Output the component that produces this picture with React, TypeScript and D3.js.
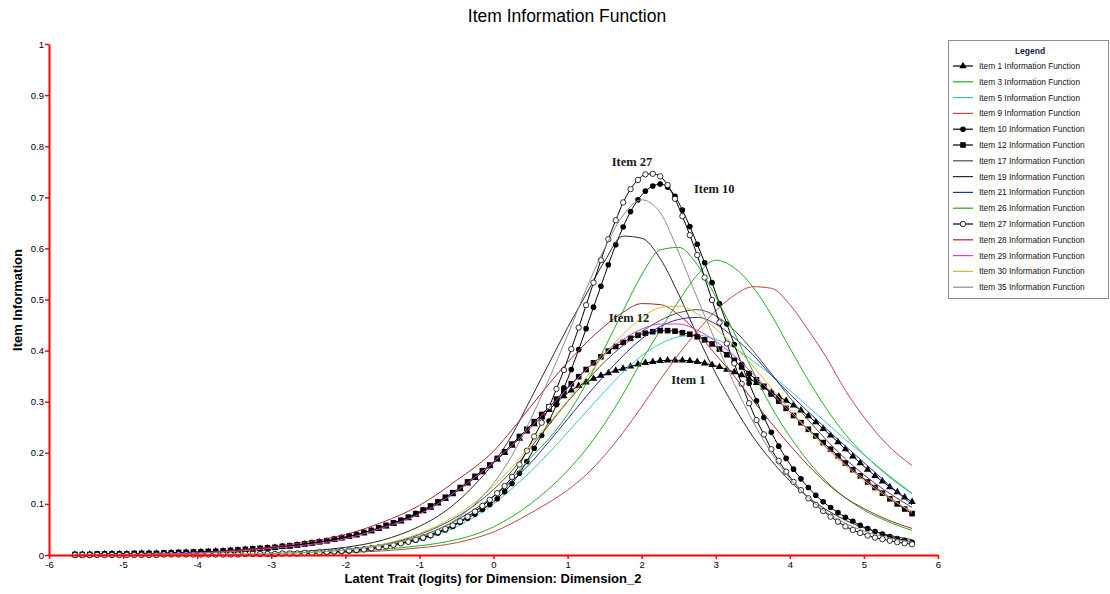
"use client";
import React, { useEffect, useRef } from "react";
import * as d3 from "d3";

// grid of the marked curves: one point every 0.1 logit, -5.65 .. 5.65
const THETA_FINE = d3.range(114).map((i) => +(-5.65 + i * 0.1).toFixed(2));
// grid of the plain curves
const THETA_COARSE = [
  -5.65, -5, -4.5, -4, -3.5, -3, -2.5, -2, -1.5, -1, -0.75, -0.5, -0.25, 0, 0.25, 0.5, 0.75, 1,
  1.25, 1.5, 1.75, 2, 2.25, 2.5, 2.75, 3, 3.25, 3.5, 3.75, 4, 4.25, 4.5, 4.75, 5, 5.3, 5.65,
];

const ITEM_1 = [
  0.001, 0.001, 0.001, 0.001, 0.002, 0.002, 0.002, 0.002, 0.002, 0.003,
  0.003, 0.003, 0.003, 0.004, 0.004, 0.005, 0.005, 0.006, 0.006, 0.007,
  0.007, 0.008, 0.009, 0.01, 0.011, 0.012, 0.013, 0.014, 0.016, 0.017,
  0.019, 0.021, 0.023, 0.025, 0.027, 0.03, 0.033, 0.036, 0.039, 0.043,
  0.047, 0.051, 0.056, 0.061, 0.066, 0.072, 0.079, 0.086, 0.093, 0.101,
  0.11, 0.119, 0.129, 0.14, 0.151, 0.162, 0.174, 0.187, 0.2, 0.214,
  0.228, 0.242, 0.256, 0.27, 0.284, 0.298, 0.311, 0.322, 0.331, 0.338,
  0.345, 0.351, 0.356, 0.361, 0.365, 0.369, 0.373, 0.376, 0.378, 0.38,
  0.381, 0.381, 0.381, 0.38, 0.378, 0.375, 0.372, 0.368, 0.363, 0.358,
  0.352, 0.345, 0.337, 0.328, 0.318, 0.31, 0.302, 0.293, 0.283, 0.272,
  0.26, 0.247, 0.234, 0.221, 0.207, 0.193, 0.18, 0.167, 0.155, 0.144,
  0.133, 0.123, 0.113, 0.104,
];
const ITEM_10 = [
  0, 0, 0, 0, 0, 0, 0, 0, 0, 0,
  0, 0, 0.001, 0.001, 0.001, 0.001, 0.001, 0.001, 0.001, 0.001,
  0.001, 0.001, 0.001, 0.002, 0.002, 0.002, 0.002, 0.002, 0.003, 0.003,
  0.003, 0.004, 0.004, 0.005, 0.005, 0.006, 0.007, 0.008, 0.009, 0.011,
  0.013, 0.015, 0.017, 0.02, 0.023, 0.026, 0.029, 0.033, 0.038, 0.043,
  0.049, 0.056, 0.064, 0.072, 0.08, 0.089, 0.099, 0.11, 0.124, 0.14,
  0.16, 0.183, 0.209, 0.234, 0.262, 0.294, 0.327, 0.363, 0.402, 0.443,
  0.485, 0.526, 0.568, 0.607, 0.642, 0.672, 0.695, 0.712, 0.722, 0.726,
  0.72, 0.702, 0.675, 0.643, 0.608, 0.572, 0.533, 0.492, 0.452, 0.412,
  0.373, 0.336, 0.302, 0.269, 0.24, 0.213, 0.189, 0.168, 0.149, 0.132,
  0.117, 0.104, 0.093, 0.083, 0.074, 0.066, 0.058, 0.052, 0.046, 0.041,
  0.036, 0.032, 0.029, 0.025,
];
const ITEM_12 = [
  0.001, 0.001, 0.001, 0.002, 0.002, 0.002, 0.002, 0.002, 0.003, 0.003,
  0.003, 0.003, 0.004, 0.004, 0.005, 0.005, 0.006, 0.006, 0.007, 0.007,
  0.008, 0.009, 0.01, 0.011, 0.012, 0.013, 0.014, 0.015, 0.017, 0.018,
  0.02, 0.022, 0.024, 0.026, 0.028, 0.031, 0.034, 0.037, 0.04, 0.044,
  0.048, 0.053, 0.058, 0.063, 0.068, 0.074, 0.081, 0.088, 0.096, 0.104,
  0.113, 0.122, 0.132, 0.143, 0.154, 0.165, 0.176, 0.189, 0.202, 0.217,
  0.232, 0.246, 0.261, 0.275, 0.29, 0.305, 0.32, 0.335, 0.349, 0.363,
  0.376, 0.388, 0.399, 0.408, 0.416, 0.424, 0.43, 0.434, 0.437, 0.439,
  0.439, 0.438, 0.435, 0.432, 0.427, 0.421, 0.413, 0.403, 0.392, 0.381,
  0.368, 0.355, 0.343, 0.33, 0.315, 0.301, 0.287, 0.273, 0.259, 0.246,
  0.233, 0.22, 0.207, 0.194, 0.18, 0.167, 0.155, 0.143, 0.132, 0.121,
  0.11, 0.1, 0.09, 0.081,
];
const ITEM_27 = [
  0, 0, 0, 0, 0, 0, 0, 0, 0, 0,
  0, 0, 0.001, 0.001, 0.001, 0.001, 0.001, 0.001, 0.001, 0.001,
  0.001, 0.001, 0.001, 0.002, 0.002, 0.002, 0.002, 0.002, 0.003, 0.003,
  0.003, 0.004, 0.004, 0.005, 0.006, 0.007, 0.008, 0.009, 0.01, 0.011,
  0.013, 0.015, 0.017, 0.02, 0.023, 0.026, 0.03, 0.034, 0.039, 0.045,
  0.051, 0.058, 0.066, 0.075, 0.085, 0.096, 0.108, 0.121, 0.135, 0.153,
  0.177, 0.204, 0.232, 0.259, 0.29, 0.325, 0.362, 0.403, 0.445, 0.489,
  0.533, 0.577, 0.618, 0.655, 0.69, 0.716, 0.734, 0.745, 0.746, 0.741,
  0.724, 0.697, 0.663, 0.626, 0.587, 0.543, 0.499, 0.455, 0.414, 0.375,
  0.335, 0.297, 0.264, 0.236, 0.207, 0.184, 0.163, 0.143, 0.127, 0.111,
  0.098, 0.086, 0.075, 0.065, 0.056, 0.049, 0.043, 0.038, 0.034, 0.031,
  0.028, 0.025, 0.023, 0.021,
];

const ITEM_3 = [
  0, 0, 0, 0.001, 0.001, 0.002, 0.004, 0.006, 0.011, 0.018, 0.023, 0.03, 0.04, 0.055, 0.075, 0.1,
  0.13, 0.165, 0.207, 0.257, 0.315, 0.38, 0.44, 0.497, 0.548, 0.577, 0.562, 0.525, 0.47, 0.405,
  0.342, 0.285, 0.236, 0.197, 0.158, 0.12,
];
const ITEM_5 = [
  0, 0, 0, 0.001, 0.001, 0.002, 0.004, 0.007, 0.015, 0.029, 0.04, 0.055, 0.075, 0.1, 0.13, 0.163,
  0.2, 0.24, 0.28, 0.32, 0.358, 0.39, 0.413, 0.427, 0.43, 0.422, 0.405, 0.38, 0.352, 0.322, 0.29,
  0.258, 0.226, 0.196, 0.16, 0.121,
];
const ITEM_9 = [
  0, 0, 0, 0, 0.001, 0.002, 0.003, 0.005, 0.008, 0.014, 0.018, 0.024, 0.033, 0.045, 0.062, 0.082,
  0.103, 0.127, 0.157, 0.195, 0.24, 0.29, 0.343, 0.393, 0.438, 0.478, 0.508, 0.525, 0.522, 0.49,
  0.44, 0.385, 0.322, 0.27, 0.218, 0.175,
];
const ITEM_17 = [
  0, 0, 0, 0.001, 0.001, 0.002, 0.005, 0.01, 0.02, 0.04, 0.055, 0.074, 0.098, 0.128, 0.165, 0.21,
  0.255, 0.3, 0.34, 0.378, 0.41, 0.437, 0.459, 0.474, 0.48, 0.468, 0.44, 0.4, 0.355, 0.308, 0.264,
  0.224, 0.188, 0.157, 0.125, 0.093,
];
const ITEM_19 = [
  0, 0, 0.001, 0.001, 0.002, 0.004, 0.008, 0.015, 0.029, 0.056, 0.076, 0.103, 0.138, 0.18, 0.235,
  0.305, 0.375, 0.445, 0.51, 0.575, 0.624, 0.62, 0.58, 0.51, 0.43, 0.355, 0.29, 0.232, 0.185,
  0.145, 0.113, 0.088, 0.068, 0.053, 0.04, 0.03,
];
const ITEM_21 = [
  0, 0, 0, 0.001, 0.001, 0.002, 0.005, 0.009, 0.019, 0.036, 0.05, 0.068, 0.09, 0.115, 0.145, 0.18,
  0.222, 0.266, 0.31, 0.352, 0.39, 0.423, 0.447, 0.461, 0.465, 0.452, 0.425, 0.392, 0.352, 0.315,
  0.28, 0.246, 0.213, 0.181, 0.142, 0.098,
];
const ITEM_26 = [
  0, 0, 0, 0.001, 0.001, 0.003, 0.006, 0.011, 0.02, 0.034, 0.046, 0.062, 0.085, 0.115, 0.15, 0.19,
  0.228, 0.275, 0.335, 0.405, 0.478, 0.548, 0.597, 0.602, 0.568, 0.505, 0.435, 0.36, 0.29, 0.232,
  0.183, 0.143, 0.112, 0.088, 0.067, 0.048,
];
const ITEM_28 = [
  0.001, 0.001, 0.002, 0.004, 0.009, 0.016, 0.026, 0.04, 0.064, 0.097, 0.12, 0.146, 0.172, 0.203,
  0.245, 0.29, 0.335, 0.377, 0.415, 0.448, 0.475, 0.492, 0.49, 0.47, 0.435, 0.392, 0.35, 0.303,
  0.258, 0.215, 0.175, 0.14, 0.112, 0.091, 0.07, 0.052,
];
const ITEM_29 = [
  0.001, 0.001, 0.002, 0.004, 0.007, 0.013, 0.02, 0.032, 0.053, 0.08, 0.1, 0.125, 0.152, 0.182,
  0.215, 0.25, 0.288, 0.326, 0.362, 0.395, 0.422, 0.442, 0.452, 0.452, 0.44, 0.418, 0.39, 0.355,
  0.318, 0.28, 0.244, 0.21, 0.178, 0.15, 0.118, 0.082,
];
const ITEM_30 = [
  0, 0, 0, 0.001, 0.002, 0.003, 0.005, 0.01, 0.021, 0.042, 0.058, 0.078, 0.103, 0.135, 0.172,
  0.215, 0.258, 0.302, 0.347, 0.392, 0.432, 0.464, 0.484, 0.487, 0.472, 0.443, 0.41, 0.37, 0.327,
  0.285, 0.245, 0.208, 0.175, 0.146, 0.115, 0.085,
];
const ITEM_35 = [
  0, 0, 0, 0.001, 0.001, 0.003, 0.005, 0.01, 0.019, 0.036, 0.05, 0.07, 0.1, 0.14, 0.195, 0.265,
  0.345, 0.43, 0.52, 0.6, 0.665, 0.695, 0.67, 0.592, 0.503, 0.417, 0.335, 0.262, 0.2, 0.15, 0.112,
  0.083, 0.062, 0.047, 0.035, 0.025,
];

const Y_TICKS = [0, 0.1, 0.2, 0.3, 0.4, 0.5, 0.6, 0.7, 0.8, 0.9, 1];
const X_TICKS = [-6, -5, -4, -3, -2, -1, 0, 1, 2, 3, 4, 5, 6];

// series in legend order
const SERIES = [
  { name: "Item 1", theta: THETA_FINE, values: ITEM_1, color: "#000000", marker: "triangle" },
  { name: "Item 3", theta: THETA_COARSE, values: ITEM_3, color: "#20b020", marker: null },
  { name: "Item 5", theta: THETA_COARSE, values: ITEM_5, color: "#40c4b4", marker: null },
  { name: "Item 9", theta: THETA_COARSE, values: ITEM_9, color: "#c04646", marker: null },
  { name: "Item 10", theta: THETA_FINE, values: ITEM_10, color: "#000000", marker: "dot" },
  { name: "Item 12", theta: THETA_FINE, values: ITEM_12, color: "#000000", marker: "square" },
  { name: "Item 17", theta: THETA_COARSE, values: ITEM_17, color: "#4a4a4a", marker: null },
  { name: "Item 19", theta: THETA_COARSE, values: ITEM_19, color: "#2a2a2a", marker: null },
  { name: "Item 21", theta: THETA_COARSE, values: ITEM_21, color: "#2a2aa0", marker: null },
  { name: "Item 26", theta: THETA_COARSE, values: ITEM_26, color: "#24a824", marker: null },
  { name: "Item 27", theta: THETA_FINE, values: ITEM_27, color: "#000000", marker: "circle" },
  { name: "Item 28", theta: THETA_COARSE, values: ITEM_28, color: "#a42a2a", marker: null },
  { name: "Item 29", theta: THETA_COARSE, values: ITEM_29, color: "#d040c8", marker: null },
  { name: "Item 30", theta: THETA_COARSE, values: ITEM_30, color: "#c8c032", marker: null },
  { name: "Item 35", theta: THETA_COARSE, values: ITEM_35, color: "#8c8c8c", marker: null },
];

// callouts written on the plot
const CALLOUTS = [
  { text: "Item 27", theta: 1.87, value: 0.769 },
  { text: "Item 10", theta: 2.98, value: 0.716 },
  { text: "Item 12", theta: 1.83, value: 0.464 },
  { text: "Item 1", theta: 2.63, value: 0.342 },
];

const SANS = "'Liberation Sans', Arial, sans-serif";

function drawMarker(g, kind, cx, cy) {
  if (kind === "triangle") {
    g.append("path")
      .attr("d", d3.symbol().type(d3.symbolTriangle).size(24)())
      .attr("transform", `translate(${cx},${cy})`)
      .attr("fill", "#000");
  } else if (kind === "square") {
    g.append("rect")
      .attr("x", cx - 2.8)
      .attr("y", cy - 2.8)
      .attr("width", 5.6)
      .attr("height", 5.6)
      .attr("fill", "#000");
  } else if (kind === "dot") {
    g.append("circle").attr("cx", cx).attr("cy", cy).attr("r", 2.8).attr("fill", "#000");
  } else if (kind === "circle") {
    g.append("circle")
      .attr("cx", cx)
      .attr("cy", cy)
      .attr("r", 2.7)
      .attr("fill", "#fff")
      .attr("stroke", "#000")
      .attr("stroke-width", 0.8);
  }
}

const InformationChart = () => {
  const ref = useRef(null);

  useEffect(() => {
    const svg = d3.select(ref.current);
    svg.selectAll("*").remove();

    const x = d3.scaleLinear().domain([-6, 6]).range([49, 938]);
    const y = d3.scaleLinear().domain([0, 1]).range([555, 44]);

    svg
      .append("text")
      .attr("x", 567)
      .attr("y", 22)
      .attr("text-anchor", "middle")
      .style("font", `17.5px ${SANS}`)
      .attr("fill", "#000")
      .text("Item Information Function");

    // curves
    const line = d3
      .line()
      .x((d) => x(d[0]))
      .y((d) => y(d[1]))
      .curve(d3.curveMonotoneX);

    const plot = svg.append("g");
    SERIES.forEach((s) => {
      const pts = s.theta.map((t, i) => [t, s.values[i]]);
      plot
        .append("path")
        .attr("d", line(pts))
        .attr("fill", "none")
        .attr("stroke", s.color)
        .attr("stroke-width", 1);
      if (s.marker) {
        const mg = plot.append("g");
        pts.forEach((p) => drawMarker(mg, s.marker, x(p[0]), y(p[1])));
      }
    });

    // axes (red)
    const yAxis = svg
      .append("g")
      .attr("transform", `translate(${x(-6)},0)`)
      .call(
        d3
          .axisLeft(y)
          .tickValues(Y_TICKS)
          .tickSize(4)
          .tickSizeOuter(0)
          .tickFormat((d) => String(d)),
      );
    const xAxis = svg
      .append("g")
      .attr("transform", `translate(0,${y(0)})`)
      .call(
        d3
          .axisBottom(x)
          .tickValues(X_TICKS)
          .tickSize(4)
          .tickSizeOuter(0)
          .tickFormat((d) => String(d)),
      );
    [yAxis, xAxis].forEach((a) => {
      a.select(".domain").attr("stroke", "#ff0000").attr("stroke-width", 2);
      a.selectAll(".tick line").attr("stroke", "#ff0000").attr("stroke-width", 1.5);
      a.selectAll(".tick text").attr("fill", "#000").style("font", `9.5px ${SANS}`);
    });
    yAxis.selectAll(".tick text").attr("x", -5);
    xAxis.selectAll(".tick text").attr("y", 6);

    svg
      .append("text")
      .attr("transform", "translate(22,300) rotate(-90)")
      .attr("text-anchor", "middle")
      .style("font", `bold 13px ${SANS}`)
      .text("Item Information");
    svg
      .append("text")
      .attr("x", 493)
      .attr("y", 583)
      .attr("text-anchor", "middle")
      .style("font", `bold 13px ${SANS}`)
      .text("Latent Trait (logits) for Dimension: Dimension_2");

    // callouts
    CALLOUTS.forEach((c) => {
      svg
        .append("text")
        .attr("x", x(c.theta))
        .attr("y", y(c.value) + 4)
        .attr("text-anchor", "middle")
        .style("font", "bold 12.5px 'Liberation Serif', 'Times New Roman', serif")
        .attr("fill", "#1a1a1a")
        .text(c.text);
    });

    // legend
    const lg = svg.append("g").attr("transform", "translate(948,40)");
    lg.append("rect")
      .attr("x", 0.5)
      .attr("y", 0.5)
      .attr("width", 160)
      .attr("height", 258)
      .attr("fill", "#fff")
      .attr("stroke", "#8c8c8c");
    lg.append("text")
      .attr("x", 82)
      .attr("y", 14)
      .attr("text-anchor", "middle")
      .style("font", `bold 8.5px ${SANS}`)
      .attr("fill", "#1a1a4a")
      .text("Legend");
    SERIES.forEach((s, i) => {
      const ly = 26 + i * 15.8;
      lg.append("line")
        .attr("x1", 5)
        .attr("x2", 25)
        .attr("y1", ly)
        .attr("y2", ly)
        .attr("stroke", s.color)
        .attr("stroke-width", 1.2);
      if (s.marker) drawMarker(lg, s.marker, 15, ly);
      lg.append("text")
        .attr("x", 31)
        .attr("y", ly + 3)
        .style("font", `8.3px ${SANS}`)
        .attr("fill", "#111")
        .text(`${s.name} Information Function`);
    });

    return () => {
      svg.selectAll("*").remove();
    };
  }, []);

  return (
    <svg
      ref={ref}
      width={1110}
      height={594}
      style={{ position: "absolute", left: 0, top: 0, background: "#fff" }}
    />
  );
};

export default function App() {
  return <InformationChart />;
}
